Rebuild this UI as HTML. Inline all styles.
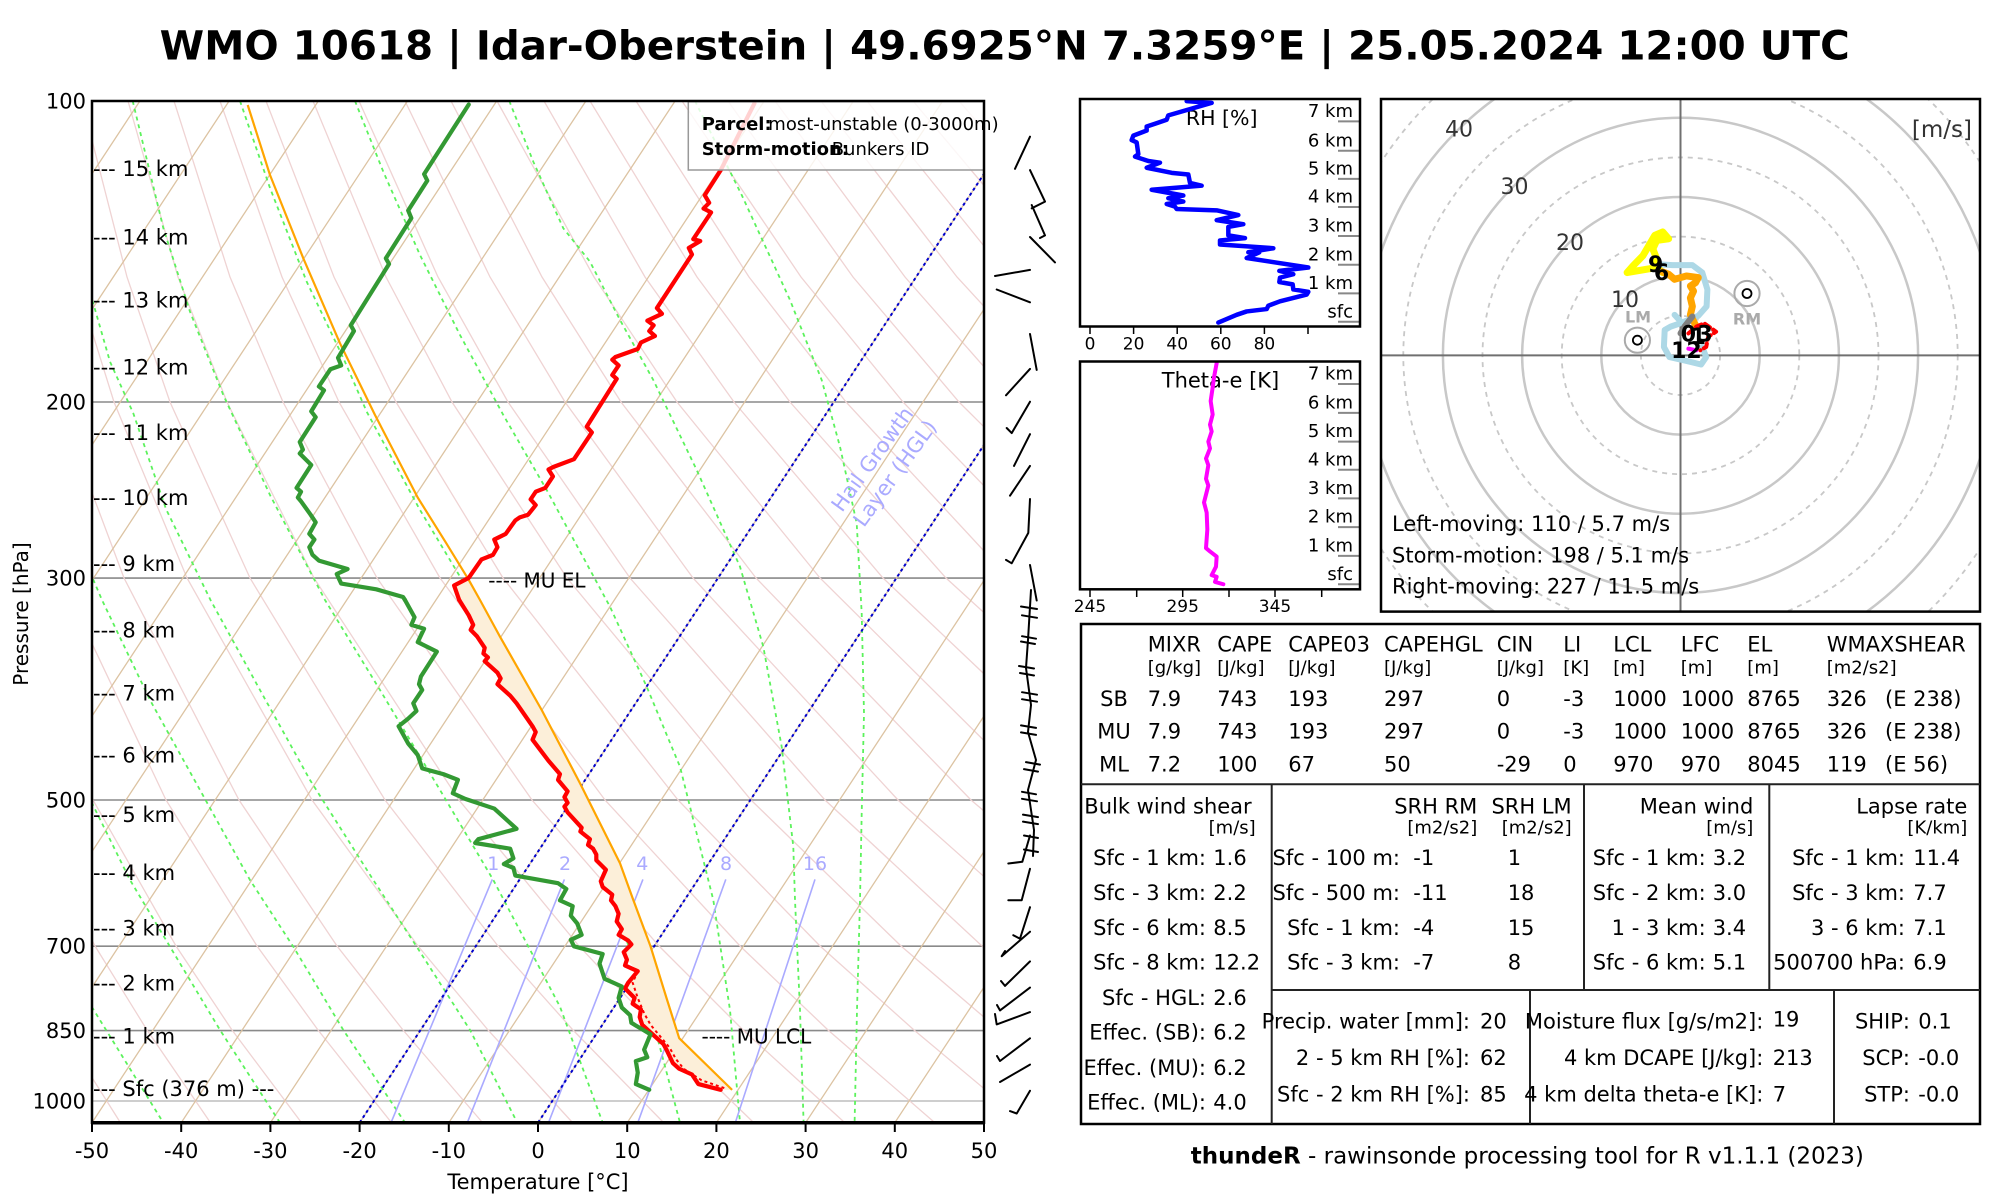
<!DOCTYPE html>
<html><head><meta charset="utf-8"><style>
html,body{margin:0;padding:0;background:#fff;}
svg{display:block;}
text{font-family:"DejaVu Sans","Liberation Sans",sans-serif;}
</style></head><body>
<svg xmlns="http://www.w3.org/2000/svg" width="2000" height="1200" viewBox="0 0 2000 1200">
<rect x="0" y="0" width="2000" height="1200" fill="#fff"/>
<defs>
<clipPath id="sk"><rect x="92" y="101" width="892" height="1021.5"/></clipPath>
<clipPath id="ho"><rect x="1381" y="99" width="599" height="512.6"/></clipPath>
</defs>

<!-- TITLE -->
<text x="1004.7" y="59.5" font-size="40" font-weight="bold" text-anchor="middle" textLength="1690" lengthAdjust="spacingAndGlyphs">WMO 10618 | Idar-Oberstein | 49.6925°N 7.3259°E | 25.05.2024 12:00 UTC</text>

<!-- SKEW-T -->
<g clip-path="url(#sk)">
<!-- isobars -->
<g stroke="#8a8a8a" stroke-width="1.6">
<line x1="92" y1="402" x2="984" y2="402"/>
<line x1="92" y1="578.1" x2="984" y2="578.1"/>
<line x1="92" y1="800" x2="984" y2="800"/>
<line x1="92" y1="946.2" x2="984" y2="946.2"/>
<line x1="92" y1="1030.6" x2="984" y2="1030.6"/>
<line x1="92" y1="1101" x2="984" y2="1101" stroke="#bdbdbd"/>
</g>
<!-- dry adiabats -->
<g stroke="#efd3d3" stroke-width="1.3" fill="none">
<polyline points="120,1122 62,1030 15,946 -54,800 -129,578 -168,402 -185,277 -196,101"/>
<polyline points="210,1122 147,1030 95,946 20,800 -66,578 -111,402 -133,277 -149,101"/>
<polyline points="301,1122 232,1030 176,946 93,800 -3,578 -55,402 -81,277 -103,101"/>
<polyline points="391,1122 318,1030 257,946 166,800 61,578 1,402 -29,277 -57,101"/>
<polyline points="482,1122 403,1030 337,946 239,800 124,578 58,402 23,277 -11,101"/>
<polyline points="572,1122 488,1030 418,946 312,800 187,578 114,402 75,277 35,101"/>
<polyline points="663,1122 573,1030 498,946 385,800 250,578 170,402 127,277 82,101"/>
<polyline points="753,1122 658,1030 579,946 459,800 314,578 227,402 178,277 128,101"/>
<polyline points="844,1122 743,1030 659,946 532,800 377,578 283,402 230,277 174,101"/>
<polyline points="934,1122 828,1030 740,946 605,800 440,578 339,402 282,277 220,101"/>
<polyline points="1024,1122 914,1030 820,946 678,800 503,578 396,402 334,277 266,101"/>
<polyline points="1115,1122 999,1030 901,946 751,800 567,578 452,402 386,277 313,101"/>
<polyline points="1205,1122 1084,1030 982,946 825,800 630,578 508,402 438,277 359,101"/>
<polyline points="1296,1122 1169,1030 1062,946 898,800 693,578 565,402 490,277 405,101"/>
<polyline points="1386,1122 1254,1030 1143,946 971,800 756,578 621,402 542,277 451,101"/>
<polyline points="1477,1122 1339,1030 1223,946 1044,800 820,578 677,402 594,277 497,101"/>
<polyline points="1567,1122 1425,1030 1304,946 1117,800 883,578 734,402 645,277 544,101"/>
<polyline points="1658,1122 1510,1030 1384,946 1190,800 946,578 790,402 697,277 590,101"/>
<polyline points="1748,1122 1595,1030 1465,946 1263,800 1009,578 846,402 749,277 636,101"/>
<polyline points="1839,1122 1680,1030 1545,946 1337,800 1073,578 903,402 801,277 682,101"/>
<polyline points="1929,1122 1765,1030 1626,946 1410,800 1136,578 959,402 853,277 728,101"/>
<polyline points="2019,1122 1850,1030 1706,946 1483,800 1199,578 1015,402 905,277 775,101"/>
<polyline points="2110,1122 1935,1030 1787,946 1556,800 1262,578 1072,402 957,277 821,101"/>
<polyline points="2200,1122 2021,1030 1868,946 1629,800 1326,578 1128,402 1009,277 867,101"/>
<polyline points="2291,1122 2106,1030 1948,946 1702,800 1389,578 1184,402 1061,277 913,101"/>
<polyline points="2381,1122 2191,1030 2029,946 1776,800 1452,578 1241,402 1112,277 959,101"/>
</g>
<!-- isotherms -->
<g stroke="#dcc3a2" stroke-width="1.3">
<line x1="-532.4" y1="1122.7" x2="139.9" y2="101"/>
<line x1="-443.2" y1="1122.7" x2="229.1" y2="101"/>
<line x1="-354" y1="1122.7" x2="318.3" y2="101"/>
<line x1="-264.8" y1="1122.7" x2="407.5" y2="101"/>
<line x1="-175.6" y1="1122.7" x2="496.7" y2="101"/>
<line x1="-86.4" y1="1122.7" x2="585.9" y2="101"/>
<line x1="2.8" y1="1122.7" x2="675.1" y2="101"/>
<line x1="92" y1="1122.7" x2="764.3" y2="101"/>
<line x1="181.2" y1="1122.7" x2="853.5" y2="101"/>
<line x1="270.4" y1="1122.7" x2="942.7" y2="101"/>
<line x1="359.6" y1="1122.7" x2="1031.9" y2="101"/>
<line x1="448.8" y1="1122.7" x2="1121.1" y2="101"/>
<line x1="538" y1="1122.7" x2="1210.3" y2="101"/>
<line x1="627.2" y1="1122.7" x2="1299.5" y2="101"/>
<line x1="716.4" y1="1122.7" x2="1388.7" y2="101"/>
<line x1="805.6" y1="1122.7" x2="1477.9" y2="101"/>
<line x1="894.8" y1="1122.7" x2="1567.1" y2="101"/>
<line x1="984" y1="1122.7" x2="1656.3" y2="101"/>
</g>
<!-- moist adiabats -->
<g stroke="#5cf25c" stroke-width="1.8" fill="none" stroke-dasharray="4,4">
<polyline points="91.7,1006.7 163.3,1122.7"/>
<polyline points="88,795 130,880 170,946.7 220,1030 280,1122.7"/>
<polyline points="90,572 102,600 150,700 200,790 250,880 293.3,946.7 343.3,1030 405,1122.7"/>
<polyline points="88,285 110,361.7 133.3,413.3 166,509 210.5,600 260,690 310,780 373.3,880 416.7,946.7 470,1030 517.3,1122.7"/>
<polyline points="132.7,101 143.3,145 163.3,228 190,311.7 223.3,395 270,495 325,600 380,690 440,790 493.3,880 560,1006.7 602.7,1122.7"/>
<polyline points="240,101 270,188 306.7,281.7 343.3,358 366.7,411.7 420,510 480,610 523,680 563,763 590,830 613,900 650,1010 680,1122.7"/>
<polyline points="355,101 383.3,171.7 420,255 460,335 503.3,415 546.7,490 610,606.7 646.7,686.7 680,766.7 713.3,900 730,1010 740,1122.7"/>
<polyline points="509.3,101 533.3,161.7 563.3,228.3 590,261.7 620,320 653.3,380 696.7,470 740,566.7 763.3,646.7 781.7,746.7 793.3,846.7 795,900 800,1010 803.6,1122.7"/>
<polyline points="695,101 741.7,195 790,300 821.7,380 840,446.7 856.7,523.3 861.7,613.3 864,713.3 861.7,813.3 860,900 857,1010 854.6,1122.7"/>
</g>
<!-- mixing ratio -->
<g stroke="#aaaaff" stroke-width="1.6">
<line x1="391" y1="1122.7" x2="492.3" y2="879.4"/>
<line x1="467.3" y1="1122.7" x2="564.4" y2="879.4"/>
<line x1="548.5" y1="1122.7" x2="642.9" y2="879.4"/>
<line x1="637.8" y1="1122.7" x2="725.8" y2="879.4"/>
<line x1="735.3" y1="1122.7" x2="815" y2="879.4"/>
</g>
<g fill="#aaaaff" font-size="19" text-anchor="middle">
<text x="493.3" y="870">1</text><text x="565" y="870">2</text><text x="642.3" y="870">4</text><text x="726" y="870">8</text><text x="815" y="870">16</text>
</g>
<!-- HGL isotherms -->
<g stroke="#0000cc" stroke-width="2" stroke-dasharray="3,3">
<line x1="359.6" y1="1122.7" x2="1031.9" y2="101"/>
<line x1="538" y1="1122.7" x2="1210.3" y2="101"/>
</g>
<g fill="#aaaaff" font-size="21" text-anchor="middle">
<text transform="translate(872.5,459.2) rotate(-54)" y="7">Hail Growth</text>
<text transform="translate(895,473.3) rotate(-54)" y="7">Layer (HGL)</text>
</g>
<!-- CAPE fill -->
<g fill="#fcefd9">
<polygon transform="translate(0,600) scale(0.63776,0.38267)" points="752.6,0 784,95.9 849.4,287.4 909.4,479 972.2,688 993,783.9 1020,905 1045,1040 1065,1145 1148,1280 1130,1280 1095,1265 1085,1240 1065,1225 1055,1210 1045,1175 1040,1160 1020,1130 1007,1110 1003,1090 1005,1070 992,1055 995,1040 980,1015 985,1000 1000,970 983,940 978,920 990,900 985,890 970,875 975,860 967,840 970,820 965,800 958,785 960,770 945,750 942,735 950,705 935,680 935,665 930,650 922,640 925,625 910,605 912,595 890,555 885,540 890,530 885,515 890,500 875,470 878,455 860,420 835,365 840,345 835,330 810,270 800,250 780,220 785,205 780,190 760,160 765,150 758,140 760,125 748,95 738,78 742,65 735,40 720,0"/>
<polygon transform="scale(0.63776,0.38267)" points="735,1512 752.6,1568 720,1568 712,1530"/>
</g>
<!-- parcel -->
<polyline fill="none" stroke="#ffa500" stroke-width="2.2" stroke-linejoin="round" points="247.7,105 270,175 303.3,258.3 340,343.3 375,415 417.7,497.5 446.4,543.4 468.7,579.8 480,600 500,636.7 541.7,710 580,783.3 620,863.3 633.3,900 650.5,946.3 666.5,998 679.2,1038.2 732.1,1089.9"/>
<!-- virtual temp dotted -->
<path transform="translate(0,600) scale(0.63776,0.38267)" vector-effect="non-scaling-stroke" fill="none" stroke="#ff0000" stroke-width="2" stroke-dasharray="3,3" d="M1000,970 L992,1000 L1000,1040 L1010,1080 L1020,1110 L1035,1140 L1050,1170 L1060,1200 L1072,1225 L1100,1255 L1140,1278"/>
<!-- temperature -->
<g fill="none" stroke="#ff0000" stroke-width="4.2" stroke-linejoin="round" stroke-linecap="round">
<path transform="scale(0.63776,0.38267)" vector-effect="non-scaling-stroke" d="M1183,270 L1130,445 L1105,510 L1112,530 L1103,545 L1115,555 L1087,625 L1098,630 L1080,648 L1085,665 L1030,805 L1038,820 L1015,838 L1025,850 L1018,865 L1027,878 L1005,895 L1000,912 L965,933 L960,940 L970,955 L960,980 L967,990 L920,1115 L928,1130 L900,1200 L868,1220 L860,1227 L867,1245 L855,1275 L840,1285 L832,1305 L840,1320 L828,1345 L815,1352 L808,1360 L793,1395 L775,1410 L780,1430 L773,1450 L755,1462 L735,1510 L712,1530 L720,1568"/>
<path transform="translate(0,600) scale(0.63776,0.38267)" vector-effect="non-scaling-stroke" d="M720,0 L735,40 L742,65 L738,78 L748,95 L760,125 L758,140 L765,150 L760,160 L780,190 L785,205 L780,220 L800,250 L810,270 L835,330 L840,345 L835,365 L860,420 L878,455 L875,470 L890,500 L885,515 L890,530 L885,540 L890,555 L912,595 L910,605 L925,625 L922,640 L930,650 L935,665 L935,680 L950,705 L942,735 L945,750 L960,770 L958,785 L965,800 L970,820 L967,840 L975,860 L970,875 L985,890 L990,900 L978,920 L983,940 L980,955 L1000,970 L985,1000 L980,1015 L995,1040 L992,1055 L1005,1070 L1003,1090 L1007,1110 L1020,1130 L1040,1160 L1045,1175 L1055,1210 L1065,1225 L1085,1240 L1095,1265 L1130,1280"/>
</g>
<!-- dewpoint -->
<g fill="none" stroke="#339933" stroke-width="4.2" stroke-linejoin="round" stroke-linecap="round">
<path transform="scale(0.63776,0.38267)" vector-effect="non-scaling-stroke" d="M735,273 L665,455 L670,472 L640,550 L645,570 L605,675 L610,690 L550,850 L555,865 L530,935 L535,955 L518,965 L500,1010 L508,1020 L488,1075 L495,1090 L470,1155 L475,1175 L470,1185 L488,1215 L465,1275 L472,1285 L467,1300 L472,1310 L487,1345 L495,1365 L485,1395 L493,1410 L485,1430 L490,1450 L500,1465 L545,1487 L528,1500 L535,1525 L590,1540 L632,1560 L635,1568"/>
<path transform="translate(0,600) scale(0.63776,0.38267)" vector-effect="non-scaling-stroke" d="M635,0 L650,45 L645,65 L665,75 L655,110 L685,135 L660,200 L657,220 L662,235 L648,270 L653,290 L640,310 L625,330 L640,375 L655,405 L662,440 L695,455 L718,470 L710,505 L730,520 L775,545 L810,598 L750,625 L745,635 L800,650 L805,675 L790,690 L805,700 L808,720 L875,740 L888,755 L878,785 L898,800 L895,825 L905,845 L912,875 L895,888 L900,905 L945,925 L940,950 L945,975 L948,990 L975,1010 L970,1040 L975,1065 L988,1085 L990,1105 L1010,1125 L1020,1135 L1010,1175 L1015,1195 L997,1205 L1000,1235 L997,1265 L1018,1280"/>
</g>
<!-- legend box -->
<rect x="688.3" y="101.7" width="296" height="68.3" fill="#fff" fill-opacity="0.82" stroke="#999" stroke-width="1.5"/>
</g>
<text x="701.7" y="130" font-size="18" font-weight="bold">Parcel:</text>
<text x="768.3" y="130" font-size="18">most-unstable (0-3000m)</text>
<text x="701.7" y="155" font-size="18" font-weight="bold">Storm-motion:</text>
<text x="831.7" y="155" font-size="18">Bunkers ID</text>

<!-- skew border -->
<rect x="92" y="101" width="892" height="1021.7" fill="none" stroke="#000" stroke-width="2.5"/>
<line x1="91" y1="1122.7" x2="985" y2="1122.7" stroke="#000" stroke-width="3.5"/>

<!-- EL / LCL labels -->
<text x="488.3" y="587.3" font-size="20">---- MU EL</text>
<text x="701.5" y="1043.6" font-size="20">---- MU LCL</text>

<!-- height labels -->
<g font-size="21">
<text x="93" y="176">--- 15 km</text>
<text x="93" y="244.3">--- 14 km</text>
<text x="93" y="307.6">--- 13 km</text>
<text x="93" y="374.3">--- 12 km</text>
<text x="93" y="440">--- 11 km</text>
<text x="93" y="505">--- 10 km</text>
<text x="93" y="571">--- 9 km</text>
<text x="93" y="637.5">--- 8 km</text>
<text x="93" y="700.6">--- 7 km</text>
<text x="93" y="762.6">--- 6 km</text>
<text x="93" y="822">--- 5 km</text>
<text x="93" y="880">--- 4 km</text>
<text x="93" y="935.3">--- 3 km</text>
<text x="93" y="990.3">--- 2 km</text>
<text x="93" y="1043.3">--- 1 km</text>
<text x="93" y="1096">--- Sfc (376 m) ---</text>
</g>

<!-- pressure labels -->
<g font-size="21" text-anchor="end">
<text x="86" y="108.5">100</text>
<text x="86" y="409.5">200</text>
<text x="86" y="585.6">300</text>
<text x="86" y="807.5">500</text>
<text x="86" y="953.7">700</text>
<text x="86" y="1038">850</text>
<text x="86" y="1108.5">1000</text>
</g>
<text transform="translate(28,614) rotate(-90)" font-size="20" text-anchor="middle">Pressure [hPa]</text>

<!-- x ticks -->
<g stroke="#000" stroke-width="2">
<line x1="92" y1="1122" x2="92" y2="1132"/><line x1="181.2" y1="1122" x2="181.2" y2="1132"/><line x1="270.4" y1="1122" x2="270.4" y2="1132"/><line x1="359.6" y1="1122" x2="359.6" y2="1132"/><line x1="448.8" y1="1122" x2="448.8" y2="1132"/><line x1="538" y1="1122" x2="538" y2="1132"/><line x1="627.2" y1="1122" x2="627.2" y2="1132"/><line x1="716.4" y1="1122" x2="716.4" y2="1132"/><line x1="805.6" y1="1122" x2="805.6" y2="1132"/><line x1="894.8" y1="1122" x2="894.8" y2="1132"/><line x1="984" y1="1122" x2="984" y2="1132"/>
</g>
<g font-size="21" text-anchor="middle">
<text x="92" y="1158">-50</text><text x="181.2" y="1158">-40</text><text x="270.4" y="1158">-30</text><text x="359.6" y="1158">-20</text><text x="448.8" y="1158">-10</text><text x="538" y="1158">0</text><text x="627.2" y="1158">10</text><text x="716.4" y="1158">20</text><text x="805.6" y="1158">30</text><text x="894.8" y="1158">40</text><text x="984" y="1158">50</text>
</g>
<text x="538" y="1189" font-size="21" text-anchor="middle">Temperature [°C]</text>

<!-- WIND BARBS -->
<g fill="none" stroke="#000" stroke-width="2" stroke-linecap="round" stroke-linejoin="round">
<path d="M1030,136.7 L1015,168.8 M1030,170.1 L1045,201.6 L1031.7,208.3 M1031.7,205 L1045,235.4 L1040,238 M1030,237 L1055,262.4 M995,276 L1030,269.9 M996.7,289.5 L1030,302.3 M1030,334 L1036.7,369.9 M1006,395.3 L1030,368.9 M1030,401.7 L1011.7,433.1 L1006.7,428 M1030,434.2 L1014,465.9 M1030,465.9 L1010,495.7 M1030,499 L1028.3,532.9 L1011.7,563.3 L1006,559.9 M1030,565 L1036.7,600.5"/>
<path d="M1031,590 L1028,640 L1026,668 L1031,705 L1028,732 L1036,760 L1028,790 L1034,830 L1033,856"/>
<path d="M1021,606.5 L1037,609 M1022,615.3 L1037,617.8 M1022,636.2 L1036,638.7 M1021,641.5 L1035,644 M1019,666 L1034,668.5 M1020,673 L1034,675.5 M1022,692.2 L1037,694.7 M1022,699.2 L1037,701.7 M1021,725.4 L1036,727.9 M1021,732.4 L1036,734.9 M1026,762.1 L1040,764.6 M1024,769.1 L1038,771.6 M1022,791.8 L1036,794.3 M1022,798.8 L1037,801.3 M1023,814.6 L1038,817.1 M1023,821.6 L1038,824.1 M1024,835.5 L1038,838 M1024,849.5 L1038,852"/>
<path d="M1030,835.5 L1022.3,861.8 L1008.3,863.5 M1030,868.8 L1021.7,900.2 L1008.3,900.2 M1030,907.2 L1020,938.7 L1013.3,935.2 M1030,931.7 L1001.7,956.2 L1005,951 M1030,961.4 L1005,985.9 L1001,981 M1030,987.6 L1000,1010.4 L997,1005 M1030,1012.1 L996.7,1024.4 L995,1014 M1030,1038.3 L1000,1061 L997,1056 M1030,1064.6 L1000,1082 M1030,1090.8 L1016.7,1113.5 L1010,1111.1"/>
</g>

<!-- RH PANEL -->
<g stroke="#888" stroke-width="2">
<line x1="1338" y1="121.4" x2="1360" y2="121.4"/><line x1="1338" y1="150.8" x2="1360" y2="150.8"/><line x1="1338" y1="178.9" x2="1360" y2="178.9"/><line x1="1338" y1="207" x2="1360" y2="207"/><line x1="1338" y1="236" x2="1360" y2="236"/><line x1="1338" y1="264.7" x2="1360" y2="264.7"/><line x1="1338" y1="293.4" x2="1360" y2="293.4"/><line x1="1338" y1="321.8" x2="1360" y2="321.8"/>
</g>
<g font-size="18" text-anchor="end">
<text x="1353" y="117">7 km</text><text x="1353" y="146.4">6 km</text><text x="1353" y="174.5">5 km</text><text x="1353" y="202.6">4 km</text><text x="1353" y="231.6">3 km</text><text x="1353" y="260.3">2 km</text><text x="1353" y="289">1 km</text><text x="1353" y="317.4">sfc</text>
</g>
<text x="1221.7" y="124.8" font-size="20.5" text-anchor="middle">RH [%]</text>
<path transform="translate(990,90) scale(0.33333,0.33807)" vector-effect="non-scaling-stroke" fill="none" stroke="#0000ff" stroke-width="4.5" stroke-linejoin="round" stroke-linecap="round" d="M590,33 L665,38 L535,75 L530,88 L495,100 L470,108 L470,120 L430,135 L425,148 L440,155 L445,190 L435,197 L475,210 L510,215 L470,230 L545,245 L595,250 L600,275 L635,283 L485,295 L580,312 L535,320 L580,330 L530,337 L555,345 L560,352 L680,356 L745,370 L680,385 L760,397 L715,405 L715,430 L765,438 L690,445 L690,457 L850,468 L775,480 L808,480 L770,497 L955,525 L868,535 L910,545 L870,555 L868,568 L908,575 L910,590 L955,597 L950,605 L870,625 L835,638 L830,648 L770,655 L740,665 L685,688"/>
<rect x="1080" y="99" width="280" height="227.5" fill="none" stroke="#000" stroke-width="2.5"/>
<g stroke="#000" stroke-width="1.5">
<line x1="1090" y1="326.5" x2="1090" y2="334"/><line x1="1133.6" y1="326.5" x2="1133.6" y2="334"/><line x1="1177.2" y1="326.5" x2="1177.2" y2="334"/><line x1="1220.8" y1="326.5" x2="1220.8" y2="334"/><line x1="1264.4" y1="326.5" x2="1264.4" y2="334"/><line x1="1308" y1="326.5" x2="1308" y2="334"/>
</g>
<g font-size="17" text-anchor="middle">
<text x="1090" y="349.6">0</text><text x="1133.6" y="349.6">20</text><text x="1177.2" y="349.6">40</text><text x="1220.8" y="349.6">60</text><text x="1264.4" y="349.6">80</text>
</g>

<!-- THETA-E PANEL -->
<g stroke="#888" stroke-width="2">
<line x1="1338" y1="384" x2="1360" y2="384"/><line x1="1338" y1="412.9" x2="1360" y2="412.9"/><line x1="1338" y1="441.6" x2="1360" y2="441.6"/><line x1="1338" y1="469.7" x2="1360" y2="469.7"/><line x1="1338" y1="498.4" x2="1360" y2="498.4"/><line x1="1338" y1="527.1" x2="1360" y2="527.1"/><line x1="1338" y1="555.9" x2="1360" y2="555.9"/><line x1="1338" y1="584.3" x2="1360" y2="584.3"/>
</g>
<g font-size="18" text-anchor="end">
<text x="1353" y="379.6">7 km</text><text x="1353" y="408.5">6 km</text><text x="1353" y="437.2">5 km</text><text x="1353" y="465.3">4 km</text><text x="1353" y="494">3 km</text><text x="1353" y="522.7">2 km</text><text x="1353" y="551.5">1 km</text><text x="1353" y="579.9">sfc</text>
</g>
<text x="1220.5" y="387.5" font-size="21" text-anchor="middle">Theta-e [K]</text>
<path transform="translate(990,90) scale(0.33333,0.33807)" vector-effect="non-scaling-stroke" fill="none" stroke="#ff00ff" stroke-width="4" stroke-linejoin="round" stroke-linecap="round" d="M680,808 L672,850 L668,880 L662,920 L668,960 L660,990 L665,1010 L655,1040 L660,1060 L648,1090 L655,1110 L648,1150 L655,1170 L642,1220 L650,1250 L652,1300 L648,1355 L660,1365 L680,1380 L678,1410 L665,1435 L680,1440 L675,1455 L700,1462"/>
<rect x="1080" y="361.5" width="280" height="227.8" fill="none" stroke="#000" stroke-width="2.5"/>
<g stroke="#000" stroke-width="1.5">
<line x1="1090" y1="589" x2="1090" y2="597"/><line x1="1136.7" y1="589" x2="1136.7" y2="597"/><line x1="1182.7" y1="589" x2="1182.7" y2="597"/><line x1="1229" y1="589" x2="1229" y2="597"/><line x1="1275" y1="589" x2="1275" y2="597"/><line x1="1321.7" y1="589" x2="1321.7" y2="597"/>
</g>
<g font-size="17" text-anchor="middle">
<text x="1090" y="612">245</text><text x="1182.7" y="612">295</text><text x="1275" y="612">345</text>
</g>

<!-- HODOGRAPH -->
<g clip-path="url(#ho)">
<g fill="none" stroke="#c8c8c8">
<circle cx="1680.5" cy="355.4" r="79.2" stroke-width="2.5"/>
<circle cx="1680.5" cy="355.4" r="158.4" stroke-width="2.5"/>
<circle cx="1680.5" cy="355.4" r="237.6" stroke-width="2.5"/>
<circle cx="1680.5" cy="355.4" r="316.8" stroke-width="2.5"/>
<circle cx="1680.5" cy="355.4" r="396" stroke-width="2.5"/>
<g stroke-width="1.8" stroke-dasharray="5,5">
<circle cx="1680.5" cy="355.4" r="39.6"/>
<circle cx="1680.5" cy="355.4" r="118.8"/>
<circle cx="1680.5" cy="355.4" r="198"/>
<circle cx="1680.5" cy="355.4" r="277.2"/>
<circle cx="1680.5" cy="355.4" r="356.4"/>
<circle cx="1680.5" cy="355.4" r="435.6"/>
</g>
</g>
<line x1="1680.5" y1="99" x2="1680.5" y2="612" stroke="#707070" stroke-width="2"/>
<line x1="1381" y1="355.4" x2="1980" y2="355.4" stroke="#707070" stroke-width="2"/>
<g fill="#333" font-size="22" text-anchor="middle">
<text x="1625" y="307">10</text><text x="1570" y="250">20</text><text x="1514.5" y="194">30</text><text x="1459" y="136.6">40</text>
</g>
<text x="1972" y="137" font-size="23" fill="#333" text-anchor="end">[m/s]</text>
<g transform="translate(1380,90) scale(0.3954,0.33807)" fill="none" stroke-linejoin="round" stroke-linecap="round">
<path vector-effect="non-scaling-stroke" stroke="#add8e6" stroke-width="6" d="M695,515 L740,518 L790,518 L815,540 L828,590 L826,640 L805,668 L780,680 L760,690 L735,700 L720,710 L718,760 L732,790 L770,800 L812,812 L825,790 L815,760 M745,665 L765,690"/>
<path vector-effect="non-scaling-stroke" stroke="#ffff00" stroke-width="7" d="M715,540 L700,525 L625,540 L640,520 L665,490 L680,460 L695,430 L715,420 L730,440 L700,445 L690,470 L700,500 L695,515"/>
<path vector-effect="non-scaling-stroke" stroke="#ffa500" stroke-width="7" d="M800,700 L785,665 L790,640 L785,615 L793,595 L785,580 L798,570 L805,555 L775,550 L745,560 L730,545 L715,538"/>
<path vector-effect="non-scaling-stroke" stroke="#808080" stroke-width="6" d="M790,670 L770,700 L760,720"/>
<path vector-effect="non-scaling-stroke" stroke="#ff0000" stroke-width="4" stroke-dasharray="6,4" d="M780,720 L800,700 L820,690 L850,715 L830,730 L825,760 L810,770"/>
<path vector-effect="non-scaling-stroke" stroke="#ff00ff" stroke-width="4" d="M780,765 L800,770"/>
</g>
<g font-size="22" font-weight="bold" text-anchor="middle">
<text x="1655.6" y="272">9</text><text x="1661.5" y="280">6</text><text x="1688.4" y="341.4">0</text><text x="1698.3" y="344">1</text><text x="1705" y="341.5">3</text><text x="1686.4" y="358">12</text>
</g>
<circle cx="1637.4" cy="340.2" r="12.6" fill="none" stroke="#aaa" stroke-width="2"/>
<circle cx="1637.4" cy="340.2" r="4.5" fill="none" stroke="#000" stroke-width="1.8"/>
<circle cx="1747" cy="293.5" r="12.6" fill="none" stroke="#aaa" stroke-width="2"/>
<circle cx="1747" cy="293.5" r="4.5" fill="none" stroke="#000" stroke-width="1.8"/>
<g font-size="16" font-weight="bold" fill="#aaa" text-anchor="middle">
<text x="1638" y="322.6">LM</text><text x="1747" y="324.3">RM</text>
</g>
<g font-size="21">
<text x="1392" y="531">Left-moving: 110 / 5.7 m/s</text>
<text x="1392" y="562.6">Storm-motion: 198 / 5.1 m/s</text>
<text x="1392" y="593.7">Right-moving: 227 / 11.5 m/s</text>
</g>
</g>
<rect x="1381" y="99" width="599" height="512.6" fill="none" stroke="#000" stroke-width="2.5"/>

<!-- TABLE -->
<rect x="1081" y="624" width="899" height="500" fill="none" stroke="#000" stroke-width="2.5"/>
<g stroke="#222" stroke-width="2">
<line x1="1081" y1="784.3" x2="1980" y2="784.3"/>
<line x1="1271.7" y1="784.3" x2="1271.7" y2="1124"/>
<line x1="1584" y1="784.3" x2="1584" y2="990"/>
<line x1="1769.3" y1="784.3" x2="1769.3" y2="990"/>
<line x1="1271.7" y1="990" x2="1980" y2="990"/>
<line x1="1530" y1="990" x2="1530" y2="1124"/>
<line x1="1834" y1="990" x2="1834" y2="1124"/>
</g>
<g font-size="21">
<text x="1147.7" y="651.7">MIXR</text><text x="1217.3" y="651.7">CAPE</text><text x="1288.3" y="651.7">CAPE03</text><text x="1384" y="651.7">CAPEHGL</text><text x="1496.7" y="651.7">CIN</text><text x="1563.3" y="651.7">LI</text><text x="1613.3" y="651.7">LCL</text><text x="1680.7" y="651.7">LFC</text><text x="1747.3" y="651.7">EL</text><text x="1826.7" y="651.7">WMAXSHEAR</text>
</g>
<g font-size="18">
<text x="1147.7" y="673.3">[g/kg]</text><text x="1217.3" y="673.3">[J/kg]</text><text x="1288.3" y="673.3">[J/kg]</text><text x="1384" y="673.3">[J/kg]</text><text x="1496.7" y="673.3">[J/kg]</text><text x="1563.3" y="673.3">[K]</text><text x="1613.3" y="673.3">[m]</text><text x="1680.7" y="673.3">[m]</text><text x="1747.3" y="673.3">[m]</text><text x="1826.7" y="673.3">[m2/s2]</text>
</g>
<g font-size="21">
<text x="1114" y="706" text-anchor="middle">SB</text>
<text x="1147.7" y="706">7.9</text><text x="1217.3" y="706">743</text><text x="1288.3" y="706">193</text><text x="1384" y="706">297</text><text x="1496.7" y="706">0</text><text x="1563.3" y="706">-3</text><text x="1613.3" y="706">1000</text><text x="1680.7" y="706">1000</text><text x="1747.3" y="706">8765</text><text x="1826.7" y="706">326</text><text x="1885" y="706">(E 238)</text>
<text x="1114" y="738.3" text-anchor="middle">MU</text>
<text x="1147.7" y="738.3">7.9</text><text x="1217.3" y="738.3">743</text><text x="1288.3" y="738.3">193</text><text x="1384" y="738.3">297</text><text x="1496.7" y="738.3">0</text><text x="1563.3" y="738.3">-3</text><text x="1613.3" y="738.3">1000</text><text x="1680.7" y="738.3">1000</text><text x="1747.3" y="738.3">8765</text><text x="1826.7" y="738.3">326</text><text x="1885" y="738.3">(E 238)</text>
<text x="1114" y="771.7" text-anchor="middle">ML</text>
<text x="1147.7" y="771.7">7.2</text><text x="1217.3" y="771.7">100</text><text x="1288.3" y="771.7">67</text><text x="1384" y="771.7">50</text><text x="1496.7" y="771.7">-29</text><text x="1563.3" y="771.7">0</text><text x="1613.3" y="771.7">970</text><text x="1680.7" y="771.7">970</text><text x="1747.3" y="771.7">8045</text><text x="1826.7" y="771.7">119</text><text x="1885" y="771.7">(E 56)</text>
</g>

<!-- bulk wind shear -->
<text x="1084.3" y="813.3" font-size="21">Bulk wind shear</text>
<text x="1255.7" y="833.3" font-size="18" text-anchor="end">[m/s]</text>
<g font-size="21" text-anchor="end">
<text x="1206" y="865">Sfc - 1 km:</text><text x="1206" y="900">Sfc - 3 km:</text><text x="1206" y="935">Sfc - 6 km:</text><text x="1206" y="969.3">Sfc - 8 km:</text><text x="1206" y="1005">Sfc - HGL:</text><text x="1206" y="1039.3">Effec. (SB):</text><text x="1206" y="1075">Effec. (MU):</text><text x="1206" y="1109.3">Effec. (ML):</text>
</g>
<g font-size="21">
<text x="1213.3" y="865">1.6</text><text x="1213.3" y="900">2.2</text><text x="1213.3" y="935">8.5</text><text x="1213.3" y="969.3">12.2</text><text x="1213.3" y="1005">2.6</text><text x="1213.3" y="1039.3">6.2</text><text x="1213.3" y="1075">6.2</text><text x="1213.3" y="1109.3">4.0</text>
</g>

<!-- SRH -->
<g font-size="21" text-anchor="end">
<text x="1477.3" y="813.3">SRH RM</text><text x="1571.7" y="813.3">SRH LM</text>
<text x="1400" y="865">Sfc - 100 m:</text><text x="1400" y="900">Sfc - 500 m:</text><text x="1400" y="935">Sfc - 1 km:</text><text x="1400" y="969.3">Sfc - 3 km:</text>
</g>
<g font-size="18" text-anchor="end">
<text x="1477.3" y="833.3">[m2/s2]</text><text x="1571.7" y="833.3">[m2/s2]</text>
</g>
<g font-size="21">
<text x="1413.3" y="865">-1</text><text x="1413.3" y="900">-11</text><text x="1413.3" y="935">-4</text><text x="1413.3" y="969.3">-7</text>
<text x="1507.7" y="865">1</text><text x="1507.7" y="900">18</text><text x="1507.7" y="935">15</text><text x="1507.7" y="969.3">8</text>
</g>

<!-- mean wind -->
<g font-size="21" text-anchor="end">
<text x="1753.3" y="813.3">Mean wind</text>
<text x="1705.7" y="865">Sfc - 1 km:</text><text x="1705.7" y="900">Sfc - 2 km:</text><text x="1705.7" y="935">1 - 3 km:</text><text x="1705.7" y="969.3">Sfc - 6 km:</text>
</g>
<text x="1753.3" y="833.3" font-size="18" text-anchor="end">[m/s]</text>
<g font-size="21">
<text x="1712.7" y="865">3.2</text><text x="1712.7" y="900">3.0</text><text x="1712.7" y="935">3.4</text><text x="1712.7" y="969.3">5.1</text>
</g>

<!-- lapse rate -->
<g font-size="21" text-anchor="end">
<text x="1967.3" y="813.3">Lapse rate</text>
<text x="1905" y="865">Sfc - 1 km:</text><text x="1905" y="900">Sfc - 3 km:</text><text x="1905" y="935">3 - 6 km:</text><text x="1905" y="969.3">500700 hPa:</text>
</g>
<text x="1967.3" y="833.3" font-size="18" text-anchor="end">[K/km]</text>
<g font-size="21">
<text x="1913.3" y="865">11.4</text><text x="1913.3" y="900">7.7</text><text x="1913.3" y="935">7.1</text><text x="1913.3" y="969.3">6.9</text>
</g>

<!-- lower section -->
<g font-size="21" text-anchor="end">
<text x="1470" y="1028.3">Precip. water [mm]:</text><text x="1470" y="1065">2 - 5 km RH [%]:</text><text x="1470" y="1101.7">Sfc - 2 km RH [%]:</text>
<text x="1763.3" y="1028.3">Moisture flux [g/s/m2]:</text><text x="1763.3" y="1065">4 km DCAPE [J/kg]:</text><text x="1763.3" y="1101.7">4 km delta theta-e [K]:</text>
<text x="1910" y="1028.3">SHIP:</text><text x="1910" y="1065">SCP:</text><text x="1910" y="1101.7">STP:</text>
</g>
<g font-size="21">
<text x="1480" y="1028.3">20</text><text x="1480" y="1065">62</text><text x="1480" y="1101.7">85</text>
<text x="1772.7" y="1026.5">19</text><text x="1772.7" y="1065">213</text><text x="1772.7" y="1101.7">7</text>
<text x="1918.3" y="1028.3">0.1</text><text x="1918.3" y="1065">-0.0</text><text x="1918.3" y="1101.7">-0.0</text>
</g>

<!-- FOOTER -->
<text x="1190.8" y="1163.3" font-size="23"><tspan font-weight="bold">thundeR</tspan> - rawinsonde processing tool for R v1.1.1 (2023)</text>
</svg>
</body></html>
